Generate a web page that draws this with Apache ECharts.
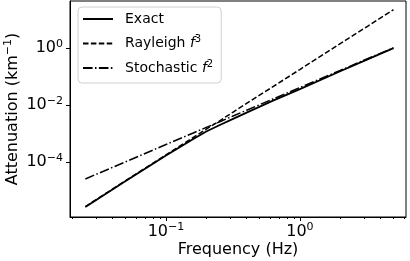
<!DOCTYPE html>
<html>
<head>
<meta charset="utf-8">
<script src="https://cdn.jsdelivr.net/npm/echarts@6/dist/echarts.min.js"></script>
<style>
  html, body { margin: 0; padding: 0; background: #fff; }
  #chart { width: 410px; height: 261px; }
</style>
</head>
<body>
<div id="chart"></div>
<script>
// values (log-log plot)
const freq = [0.025, 0.05, 0.1, 0.16, 0.2, 0.25, 0.32, 0.4, 0.63, 1, 2, 3.2, 5];
const exact = [2.7e-6, 2.2e-5, 1.74e-4, 6.6e-4, 1.2e-3, 2.0e-3, 3.4e-3, 5.5e-3, 1.45e-2, 3.7e-2, 0.156, 0.41, 1.02];
const rayleigh = [2.8e-6, 2.26e-5, 1.8e-4, 7.4e-4, 1.45e-3, 2.8e-3, 5.9e-3, 1.16e-2, 4.5e-2, 0.18, 1.45, 5.9, 22.6];
const stochastic = [2.6e-5, 1.04e-4, 4.2e-4, 1.07e-3, 1.67e-3, 2.6e-3, 4.3e-3, 6.7e-3, 1.66e-2, 4.2e-2, 0.167, 0.43, 1.04];

const xMajor = [0.1, 1];
const xMinor = [0.02, 0.03, 0.04, 0.05, 0.06, 0.07, 0.08, 0.09, 0.2, 0.3, 0.4, 0.5, 0.6, 0.7, 0.8, 0.9, 2, 3, 4, 5, 6];
const yMajor = [1e-4, 1e-2, 1];

const font = 'DejaVu Sans';
const pairs = ys => freq.map((f, i) => [f, ys[i]]);

function powLabel(v) {
    const e = Math.round(Math.log10(v));
    return '{b|10}{e|' + String(e).replace('-', '\u2212') + '}';
}
const powRich = {
    b: { fontSize: 16, fontFamily: font, color: '#000' },
    e: { fontSize: 11, fontFamily: font, color: '#000', padding: [0, 0, 9, 0] }
};

const chart = echarts.init(document.getElementById('chart'), null, { renderer: 'canvas' });
chart.setOption({
    animation: false,
    backgroundColor: '#fff',
    grid: {
        left: 70, right: 4, top: 1, bottom: 44,
        outerBoundsMode: 'none', containLabel: false,
        show: true, borderColor: '#000', borderWidth: 1
    },
    legend: {
        orient: 'vertical',
        left: 78,
        top: 7,
        padding: [5, 8, 8, 4],
        itemWidth: 30,
        itemHeight: 14,
        itemGap: 8.5,
        backgroundColor: 'rgba(255,255,255,0.8)',
        borderColor: '#d0d0d0',
        borderWidth: 1,
        borderRadius: 4,
        itemStyle: { opacity: 0 },
        data: ['Exact', 'Rayleigh', 'Stochastic'],
        formatter: function (name) {
            if (name === 'Rayleigh') return 'Rayleigh {i|f}{s|3}';
            if (name === 'Stochastic') return 'Stochastic {i|f}{s|2}';
            return name;
        },
        textStyle: {
            fontFamily: font, fontSize: 14, color: '#000', padding: [0, 0, 0, 7],
            rich: {
                i: { fontFamily: font, fontSize: 14, fontStyle: 'italic', color: '#000' },
                s: { fontFamily: font, fontSize: 10, color: '#000', padding: [0, 0, 8, 0] }
            }
        }
    },
    xAxis: [{
        type: 'log',
        min: 0.0192,
        max: 6.2,
        name: 'Frequency (Hz)',
        nameLocation: 'middle',
        nameGap: 25,
        nameMoveOverlap: false,
        nameTextStyle: { fontFamily: font, fontSize: 16, color: '#000' },
        axisLine: { lineStyle: { color: '#000', width: 1 } },
        axisTick: { customValues: xMajor, length: 4, lineStyle: { color: '#000' } },
        axisLabel: { customValues: xMajor, formatter: powLabel, rich: powRich, margin: 5 },
        splitLine: { show: false }
    }, {
        type: 'log',
        min: 0.0192,
        max: 6.2,
        position: 'bottom',
        axisLine: { show: false },
        axisTick: { customValues: xMinor, length: 2, lineStyle: { color: '#000' } },
        axisLabel: { show: false },
        splitLine: { show: false }
    }],
    yAxis: {
        type: 'log',
        min: 1.2e-6,
        max: 45.7,
        name: 'Attenuation (km{s|\u22121})',
        nameLocation: 'middle',
        nameGap: 47,
        nameMoveOverlap: false,
        nameTextStyle: {
            fontFamily: font, fontSize: 16, color: '#000',
            rich: { s: { fontFamily: font, fontSize: 11, color: '#000', padding: [0, 0, 9, 0] } }
        },
        axisLine: { lineStyle: { color: '#000', width: 1 } },
        axisTick: { customValues: yMajor, length: 4, lineStyle: { color: '#000' } },
        axisLabel: { customValues: yMajor, formatter: powLabel, rich: powRich, margin: 7 },
        splitLine: { show: false }
    },
    series: [
        {
            name: 'Exact', type: 'line', data: pairs(exact), symbol: 'none',
            lineStyle: { color: '#000', width: 1.8, type: 'solid' }, itemStyle: { color: '#000' }
        },
        {
            name: 'Rayleigh', type: 'line', data: pairs(rayleigh), symbol: 'none',
            lineStyle: { color: '#000', width: 1.5, type: [5.5, 2.4] }, itemStyle: { color: '#000' }
        },
        {
            name: 'Stochastic', type: 'line', data: pairs(stochastic), symbol: 'none',
            lineStyle: { color: '#000', width: 1.5, type: [9.6, 2.4, 1.5, 2.4] }, itemStyle: { color: '#000' }
        }
    ]
});
</script>
</body>
</html>
